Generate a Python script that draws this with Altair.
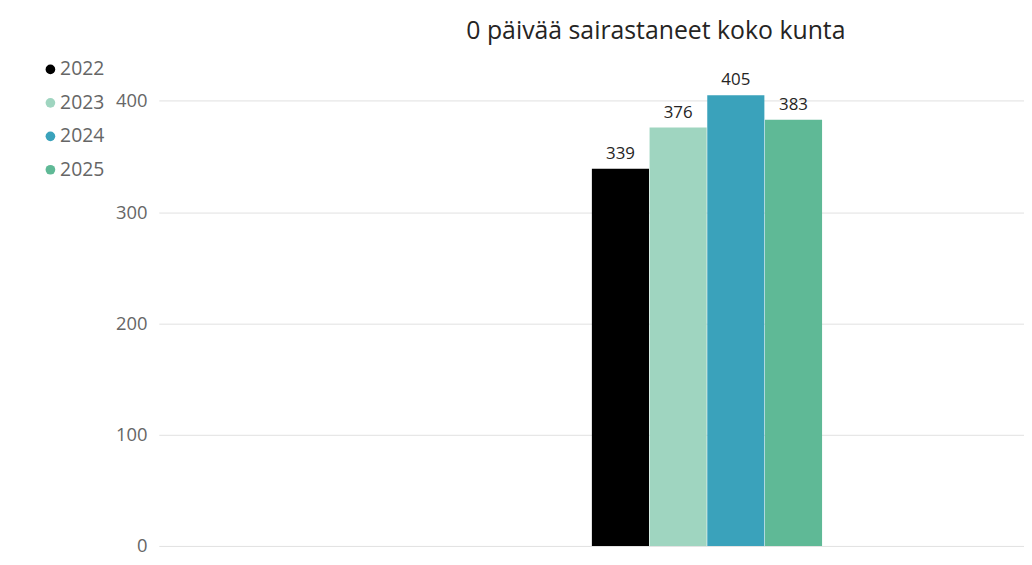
import altair as alt
import pandas as pd

years = ["2022", "2023", "2024", "2025"]
values = [339, 376, 405, 383]
colors = ["#000000", "#9fd5c0", "#3aa2bb", "#5fb996"]
category = ["koko kunta"] * 4
title_text = "0 päivää sairastaneet koko kunta"
y_ticks = [0, 100, 200, 300, 400]

df = pd.DataFrame({"kunta": category, "vuosi": years, "arvo": values})

FONT = "Segoe UI, Open Sans, Noto Sans, sans-serif"

x = alt.X("kunta:N", axis=None,
          scale=alt.Scale(paddingInner=0.275, paddingOuter=1, align=0.682))
xoff = alt.XOffset("vuosi:N", scale=alt.Scale(paddingInner=0.01, paddingOuter=0))
y = alt.Y("arvo:Q", title=None,
          scale=alt.Scale(domain=[0, 420], nice=False),
          axis=alt.Axis(values=y_ticks, grid=True, domain=False, ticks=False,
                        labelPadding=12, labelFontSize=18.5, labelColor="#666666",
                        labelFont=FONT, gridColor="#e1e1e1", gridWidth=1))

bars = alt.Chart(df).mark_bar().encode(
    x=x, xOffset=xoff, y=y,
    color=alt.Color("vuosi:N", scale=alt.Scale(domain=years, range=colors),
                    legend=alt.Legend(title=None, orient="none", legendX=-119, legendY=-19,
                                      symbolType="circle", symbolSize=95,
                                      labelFontSize=19.5, labelColor="#666666", labelFont=FONT,
                                      labelOffset=0, rowPadding=12.7, symbolStrokeWidth=0)),
)

labels = alt.Chart(df).mark_text(baseline="bottom", dy=-6, fontSize=17, color="#252423",
                                 font=FONT).encode(
    x=x, xOffset=xoff, y=alt.Y("arvo:Q"), text=alt.Text("arvo:Q"))

chart = (bars + labels).properties(
    width=872, height=471,
    autosize=alt.AutoSizeParams(type="none"),
    padding={"left": 152, "top": 69, "right": 0, "bottom": 10},
    title=alt.TitleParams(title_text, fontSize=25, font=FONT, fontWeight="normal",
                          color="#252423", anchor="middle", dx=65, offset=16),
).configure_view(stroke=None)

chart.save("out.html", embed_options={"renderer": "svg", "actions": False})
